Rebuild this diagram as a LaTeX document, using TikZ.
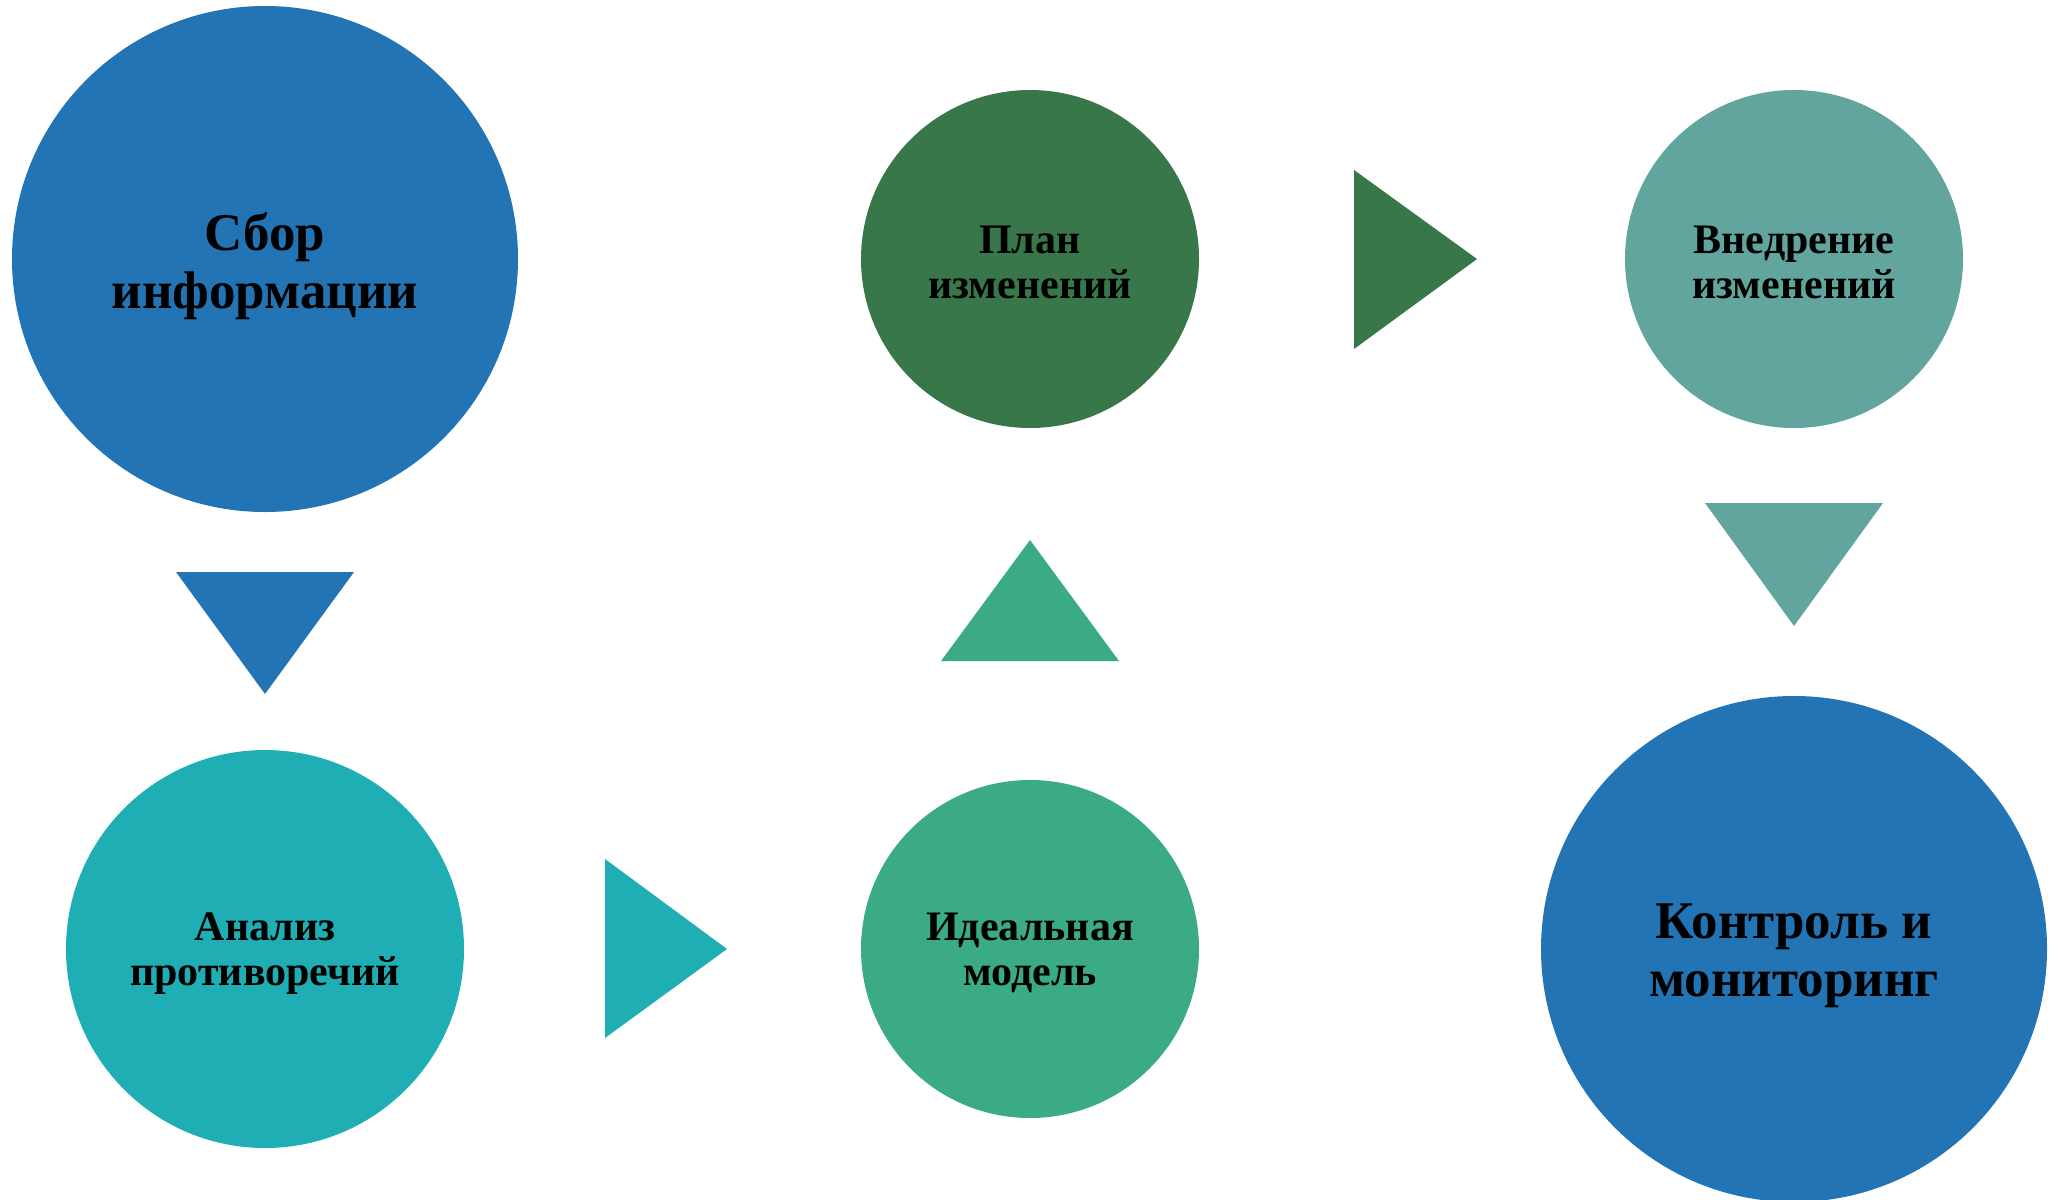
\documentclass[tikz,border=0pt]{standalone}
\usepackage{fontspec}
\setmainfont{Liberation Serif}
\definecolor{cblue}{RGB}{34,116,181}
\definecolor{cteal}{RGB}{32,174,181}
\definecolor{cgreen}{RGB}{59,170,135}
\definecolor{cdark}{RGB}{56,119,74}
\definecolor{csage}{RGB}{98,165,159}
\tikzset{
  stage/.style={circle,inner sep=0pt,draw=none},
  lbl/.style={inner sep=0pt,align=center,text=black,font=\bfseries\fontsize{42}{45}\selectfont},
  biglbl/.style={lbl,font=\bfseries\fontsize{53}{58}\selectfont}
}
\begin{document}
\begin{tikzpicture}[x=1pt,y=-1pt]
\useasboundingbox (0,0) rectangle (2049,1199);
\clip (0,0) rectangle (2049,1199);
\node[stage,fill=cblue,minimum size=506pt] (sbor) at (265,259) {};
\node[stage,fill=cteal,minimum size=398pt] (analiz) at (265,949) {};
\node[stage,fill=cgreen,minimum size=338pt] (ideal) at (1030,949) {};
\node[stage,fill=cdark,minimum size=338pt] (plan) at (1030,259) {};
\node[stage,fill=csage,minimum size=338pt] (vnedr) at (1794,259) {};
\node[stage,fill=cblue,minimum size=506pt] (kontrol) at (1794,949) {};
\node[biglbl] (sbor-t) at ([yshift=-7pt]sbor.center) {Сбор\\информации};
\node[lbl] (analiz-t) at ([yshift=-5pt]analiz.center) {Анализ\\противоречий};
\node[lbl] (ideal-t) at ([yshift=-4pt]ideal.center) {Идеальная\\модель};
\node[lbl] (plan-t) at ([yshift=-3pt]plan.center) {План\\изменений};
\node[lbl] (vnedr-t) at ([yshift=-3pt]vnedr.center) {Внедрение\\изменений};
\node[biglbl] (kontrol-t) at ([yshift=-7pt]kontrol.center) {Контроль и\\мониторинг};
\fill[cblue] (176,572) -- (354,572) -- (265,694) -- cycle;
\fill[cteal] (605,859) -- (605,1038) -- (727,949) -- cycle;
\fill[cgreen] (941,661) -- (1119,661) -- (1030,540) -- cycle;
\fill[cdark] (1354,170) -- (1354,349) -- (1477,259) -- cycle;
\fill[csage] (1705,503) -- (1883,503) -- (1794,626) -- cycle;
\end{tikzpicture}
\end{document}
